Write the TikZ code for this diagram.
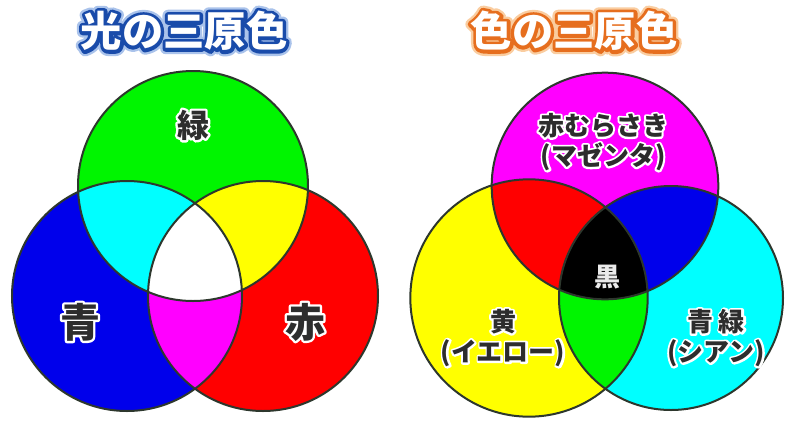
\documentclass[tikz,border=0pt]{standalone}
\usepackage{fontspec}
\newfontfamily\jp{Noto Sans CJK JP}
\definecolor{lgreen}{RGB}{0,245,0}
\definecolor{lblue}{RGB}{0,0,235}
\definecolor{lred}{RGB}{255,0,0}
\definecolor{lcyan}{RGB}{0,255,255}
\definecolor{lyellow}{RGB}{255,255,0}
\definecolor{lmag}{RGB}{255,0,255}
\definecolor{ring}{RGB}{45,55,45}
\definecolor{tblue}{RGB}{25,75,170}
\definecolor{tblueglow}{RGB}{170,195,235}
\definecolor{torange}{RGB}{230,110,30}
\definecolor{torangeglow}{RGB}{250,205,160}
\definecolor{txt}{RGB}{45,45,45}
\tikzset{
  ringline/.style={draw=ring, line width=1.5pt},
  lbl/.style={align=center, inner sep=0pt},
}
% stroked (outline) text: #1 = line width in pt, #2 = text
\newcommand\strk[2]{\special{pdf:literal direct 1 Tr #1 w 1 j}#2\special{pdf:literal direct 0 Tr}}
\def\rr{86.25pt}
\begin{document}
\begin{tikzpicture}[x=0.75pt,y=-0.75pt]
\useasboundingbox (0,0) rectangle (785,422);
\fill[white] (0,0) rectangle (785,422);
% ---------- light primaries ----------
\coordinate (G) at (193,186);
\coordinate (B) at (127,296);
\coordinate (R) at (263,296);
\fill[lblue] (B) circle[radius=\rr];
\fill[lred] (R) circle[radius=\rr];
\fill[lgreen] (G) circle[radius=\rr];
\begin{scope}
  \clip (G) circle[radius=\rr];
  \fill[lyellow] (R) circle[radius=\rr];
\end{scope}
\begin{scope}
  \clip (B) circle[radius=\rr];
  \fill[lcyan] (G) circle[radius=\rr];
  \fill[lmag] (R) circle[radius=\rr];
  \clip (G) circle[radius=\rr];
  \fill[white] (R) circle[radius=\rr];
\end{scope}
\draw[ringline] (B) circle[radius=\rr];
\draw[ringline] (R) circle[radius=\rr];
\draw[ringline] (G) circle[radius=\rr];
% ---------- pigment primaries ----------
\coordinate (M) at (605,186);
\coordinate (Y) at (529,298);
\coordinate (C) at (671,298);
\def\rm{85pt}\def\ry{89pt}\def\rc{84pt}
\fill[lyellow] (Y) circle[radius=\ry];
\fill[lcyan] (C) circle[radius=\rc];
\fill[lmag] (M) circle[radius=\rm];
\begin{scope}
  \clip (Y) circle[radius=\ry];
  \fill[lgreen] (C) circle[radius=\rc];
\end{scope}
\begin{scope}
  \clip (M) circle[radius=\rm];
  \fill[lred] (Y) circle[radius=\ry];
  \fill[lblue] (C) circle[radius=\rc];
  \clip (Y) circle[radius=\ry];
  \fill[black] (C) circle[radius=\rc];
\end{scope}
\draw[ringline] (Y) circle[radius=\ry];
\draw[ringline] (C) circle[radius=\rc];
\draw[ringline] (M) circle[radius=\rm];
% ---------- titles ----------
\def\tfont{\jp\bfseries\fontsize{31}{34}\selectfont}
\node[lbl, font=\tfont, text=tblueglow] at (184,31) {\strk{8.5}{光の三原色}};
\node[lbl, font=\tfont, text=tblue] at (184,31) {\strk{5}{光の三原色}};
\node[lbl, font=\tfont, text=white] (t1) at (184,31) {光の三原色};
\node[lbl, font=\tfont, text=torangeglow] at (574,31) {\strk{8.5}{色の三原色}};
\node[lbl, font=\tfont, text=torange] at (574,31) {\strk{5}{色の三原色}};
\node[lbl, font=\tfont, text=white] (t2) at (574,31) {色の三原色};
% ---------- labels ----------
\def\bigf{\jp\bfseries\fontsize{30}{32}\selectfont}
\def\midf{\jp\bfseries\fontsize{24}{26}\selectfont}
\def\smf{\jp\bfseries\fontsize{19.5}{22.5}\selectfont}
\node[lbl, font=\midf, text=white] at (193,125) {\strk{3.5}{緑}};
\node[lbl, font=\midf, text=txt] (lg) at (193,125) {緑};
\node[lbl, font=\bigf, text=white] at (80,322) {\strk{3.5}{青}};
\node[lbl, font=\bigf, text=txt] (lb) at (80,322) {青};
\node[lbl, font=\bigf, text=white] at (305,322) {\strk{3.5}{赤}};
\node[lbl, font=\bigf, text=txt] (lr) at (305,322) {赤};
\node[lbl, font=\smf, text=white] at (603,142) {\strk{3}{赤むらさき}\\\strk{3}{(マゼンタ)}};
\node[lbl, font=\smf, text=txt] (lm) at (603,142) {赤むらさき\\(マゼンタ)};
\node[lbl, font=\smf, text=black!8] (lk) at (607,277) {黒};
\node[lbl, font=\smf, text=white] at (503,338) {\strk{3}{黄}\\\strk{3}{(イエロー)}};
\node[lbl, font=\smf, text=txt] (ly) at (503,338) {黄\\(イエロー)};
\node[lbl, font=\smf, text=white] at (716,338) {\strk{3}{青 緑}\\\strk{3}{(シアン)}};
\node[lbl, font=\smf, text=txt] (lc) at (716,338) {青 緑\\(シアン)};
\end{tikzpicture}
\end{document}
